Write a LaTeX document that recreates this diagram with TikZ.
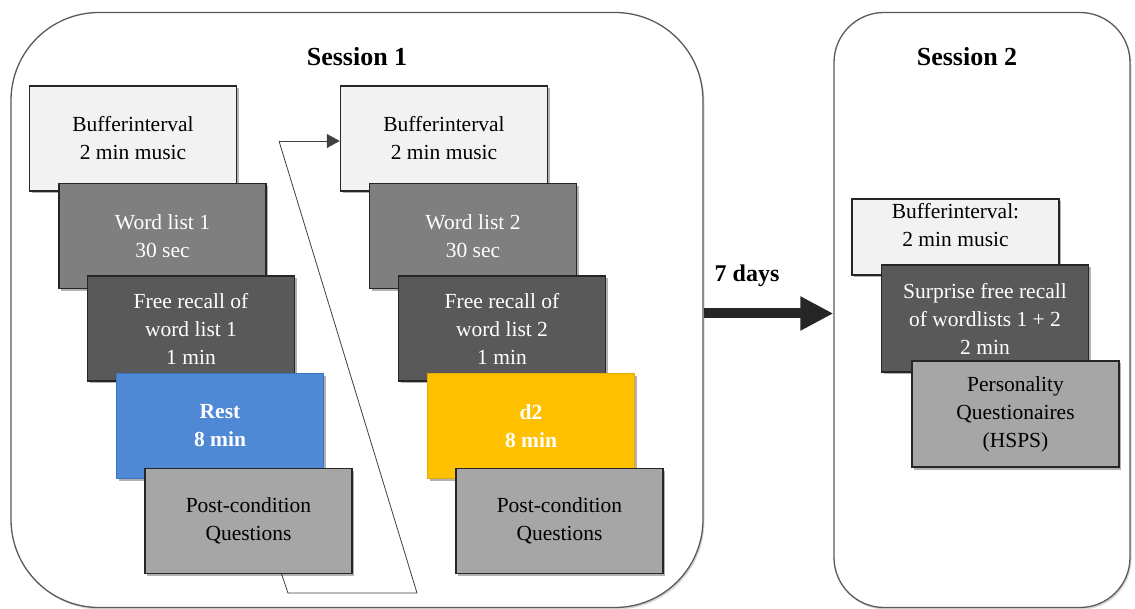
\documentclass[tikz,border=0pt]{standalone}
\usepackage{fontspec}
\setmainfont{Liberation Serif}
\usetikzlibrary{arrows.meta,shadows}
\definecolor{lightbox}{HTML}{F2F2F2}
\definecolor{midbox}{HTML}{7F7F7F}
\definecolor{darkbox}{HTML}{595959}
\definecolor{postbox}{HTML}{A6A6A6}
\definecolor{bluebox}{HTML}{4F88D5}
\definecolor{blueline}{HTML}{3D74BE}
\definecolor{yellowbox}{HTML}{FFC000}
\definecolor{yellowline}{HTML}{E3AA00}
\definecolor{boxline}{HTML}{262626}
\definecolor{sessline}{HTML}{5A5A5A}
\definecolor{connline}{HTML}{404040}
\begin{document}
\begin{tikzpicture}[x=1pt,y=-1pt,
  box/.style={draw=boxline, line width=1.5pt, minimum width=207pt, minimum height=105pt,
    inner sep=0pt, align=center, font=\fontsize{21.5}{28}\selectfont,
    drop shadow={shadow xshift=2pt, shadow yshift=-2.5pt, opacity=0.3, fill=black}},
  light/.style={box, fill=lightbox, text=black},
  mid/.style={box, fill=midbox, text=white},
  dark/.style={box, fill=darkbox, text=white},
  post/.style={box, fill=postbox, text=black},
  session/.style={draw=sessline, line width=1.3pt, fill=white, inner sep=0pt,
    drop shadow={shadow xshift=1.5pt, shadow yshift=-2pt, opacity=0.15, fill=black}},
  title/.style={font=\fontsize{26}{30}\selectfont\bfseries},
  txt/.style={align=center, font=\fontsize{21.5}{28}\selectfont},
  conn/.style={line width=0.8pt, draw=connline}
]
\useasboundingbox (0,0) rectangle (1135,609);

% session frames
\node[session, rounded corners=88pt, minimum width=692pt, minimum height=595pt] (s1) at (357,310) {};
\node[session, rounded corners=50pt, minimum width=296pt, minimum height=595pt] (s2) at (982,310) {};
\node[title] (t1) at (357,57) {Session 1};
\node[title] (t2) at (967,57) {Session 2};

% connector (behind the boxes)
\coordinate (c0) at (270,540);
\coordinate (c1) at (288,593);
\coordinate (c2) at (417,593);
\coordinate (c3) at (279,141);
\draw[conn] (c0) -- (c1) -- (c2) -- (c3);

% left column
\node[light] (b1) at (133,138.5) {Bufferinterval\\2 min music};
\node[mid] (w1) at (162.5,236) {Word list 1\\30 sec};
\node[dark] (f1) at (191,328.5) {Free recall of\\word list 1\\1 min};
\node[box, fill=bluebox, draw=blueline, text=white, font=\fontsize{21.5}{28}\selectfont\bfseries] (r1) at (220,426) {Rest\\8 min};
\node[post] (p1) at (248.5,521) {Post-condition\\Questions};

% right column
\node[light] (b2) at (444,138.5) {Bufferinterval\\2 min music};
\draw[conn, -{Triangle[length=13pt,width=14pt]}] (c3) -- (c3 -| b2.west);
\node[mid] (w2) at (473,236) {Word list 2\\30 sec};
\node[dark] (f2) at (502,328.5) {Free recall of\\word list 2\\1 min};
\node[box, fill=yellowbox, draw=yellowline, text=white, font=\fontsize{21.5}{28}\selectfont\bfseries] (d2) at (531,426) {d2\\8 min};
\node[post] (p2) at (559.5,521) {Post-condition\\Questions};

% big arrow
\draw[line width=10pt, draw=boxline, -{Triangle[length=33pt,width=32pt]}] ([yshift=-3.5pt]s1.east) -- ([yshift=-3.5pt]s2.west);
\node[font=\fontsize{24}{28}\selectfont\bfseries] (days) at (747,276) {7 days};

% session 2
\node[light, minimum height=76pt] (sb) at (955.5,237) {};
\node[txt] (sbt) at (955.5,225) {Bufferinterval:\\2 min music};
\node[dark, minimum height=107pt] (sr) at (985,318.5) {Surprise free recall\\of wordlists 1 + 2\\2 min};
\node[post, minimum height=106pt] (pq) at (1015.5,414) {Personality\\Questionaires\\(HSPS)};
\end{tikzpicture}
\end{document}
